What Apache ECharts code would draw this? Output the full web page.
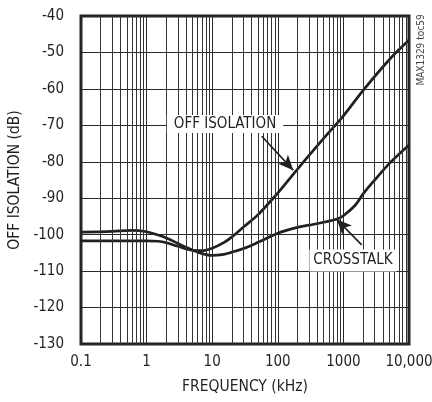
<!DOCTYPE html>
<html>
<head>
<meta charset="utf-8">
<script src="https://cdn.jsdelivr.net/npm/echarts@6/dist/echarts.min.js"></script>
<style>
  html, body { margin: 0; padding: 0; background: #fff; }
  #chart { width: 432px; height: 402px; }
</style>
</head>
<body>
<div id="chart"></div>
<script>
// values (frequency in kHz, level in dB)
const offFreq = [0.1, 0.3, 1, 1.5, 2, 3, 5, 7, 10, 15, 20, 30, 50, 85, 100, 200, 500, 1000, 2000, 5000, 10000];
const offIso  = [-101.7, -101.7, -101.7, -101.8, -102.2, -103.2, -104.3, -104.4, -103.7, -102.2, -100.6, -97.9, -94.5, -90, -88.6, -82, -73.6, -67.4, -60.4, -52, -46.6];

const xtFreq = [0.1, 0.3, 0.6, 1, 1.5, 2, 3, 5, 7, 10, 15, 20, 30, 50, 100, 200, 300, 500, 800, 1000, 1500, 2000, 3000, 5000, 10000];
const xtalk  = [-99.3, -99.1, -98.8, -99.2, -100.1, -100.9, -102.4, -104.2, -105.2, -105.7, -105.4, -104.8, -103.8, -102.1, -99.6, -98, -97.4, -96.6, -95.7, -94.8, -92, -88.8, -85, -80.5, -75.4];

const xTickLabels = ['0.1', '1', '10', '100', '1000', '10,000'];

// annotation anchors in data coords
const offLabelAt = [15.7, -69.6];
const offArrow = [[56.9, -73], [172, -82.3]];
const xtLabelAt = [1400, -107.1];
const xtArrow = [[1900, -102.8], [789, -95.8]];

const minorX = [];
[0.1, 1, 10, 100, 1000].forEach(d => {
  for (let m = 2; m <= 9; m++) minorX.push(+(d * m).toPrecision(3));
});

const ink = '#231f20';
const font = "'Liberation Sans Narrow', 'DejaVu Sans Condensed', 'Liberation Sans', sans-serif";

const chart = echarts.init(document.getElementById('chart'));
chart.setOption({
  animation: false,
  textStyle: { fontFamily: font },
  grid: {
    left: 81, right: 23, top: 16, bottom: 58,
    show: true, borderColor: ink, borderWidth: 3,
    outerBoundsMode: 'none'
  },
  xAxis: {
    type: 'log', logBase: 10, min: 0.1, max: 10000,
    name: 'FREQUENCY (kHz)', nameLocation: 'middle', nameGap: 35,
    nameTextStyle: { fontSize: 15.5, color: ink, fontFamily: font },
    axisLine: { show: false }, axisTick: { show: false },
    axisLabel: {
      fontSize: 15, color: ink, margin: 11, fontFamily: font,
      formatter: v => xTickLabels[Math.round(Math.log10(v)) + 1]
    },
    splitLine: { show: true, lineStyle: { color: '#2a2a2a', width: 1 } }
  },
  yAxis: {
    type: 'value', min: -130, max: -40, interval: 10,
    name: 'OFF ISOLATION (dB)', nameLocation: 'middle', nameGap: 55,
    nameTextStyle: { fontSize: 15.5, color: ink, fontFamily: font },
    axisLine: { show: false }, axisTick: { show: false },
    axisLabel: { fontSize: 15, color: ink, margin: 17, fontFamily: font },
    splitLine: { show: true, lineStyle: { color: '#2a2a2a', width: 1 } }
  },
  series: [
    {
      // minor log grid
      type: 'line', data: [], z: 1, silent: true,
      markLine: {
        silent: true, symbol: 'none', label: { show: false },
        lineStyle: { color: '#333', width: 1, type: 'solid' },
        data: minorX.map(v => ({ xAxis: v }))
      }
    },
    {
      name: 'OFF ISOLATION', type: 'line', z: 3, smooth: 0.35, symbol: 'none',
      lineStyle: { color: ink, width: 2.7 },
      data: offFreq.map((f, i) => [f, offIso[i]])
    },
    {
      name: 'CROSSTALK', type: 'line', z: 3, smooth: 0.35, symbol: 'none',
      lineStyle: { color: ink, width: 2.7 },
      data: xtFreq.map((f, i) => [f, xtalk[i]])
    },
    {
      // labels and arrows
      type: 'line', data: [], z: 5, silent: true,
      markPoint: {
        silent: true, symbol: 'rect', symbolSize: 0,
        label: {
          show: true, position: 'inside', color: ink, fontSize: 15, fontFamily: font,
          backgroundColor: '#fff', padding: [2, 7, 1, 7]
        },
        data: [
          { coord: offLabelAt, value: 'OFF ISOLATION', label: { formatter: 'OFF ISOLATION' } },
          { coord: xtLabelAt, value: 'CROSSTALK', label: { formatter: 'CROSSTALK', padding: [4, 4, 3, 4] } }
        ]
      },
      markLine: {
        silent: true, symbol: ['none', 'arrow'], symbolSize: [10, 15],
        label: { show: false },
        lineStyle: { color: ink, width: 1.6, type: 'solid' },
        data: [
          [{ coord: offArrow[0] }, { coord: offArrow[1] }],
          [{ coord: xtArrow[0] }, { coord: xtArrow[1] }]
        ]
      }
    }
  ],
  graphic: [
    {
      type: 'text', x: 421, y: 50, rotation: Math.PI / 2,
      style: {
        text: 'MAX1329 toc59', fill: '#444', fontSize: 10, fontFamily: font,
        align: 'center', verticalAlign: 'middle'
      }
    }
  ]
});
</script>
</body>
</html>
